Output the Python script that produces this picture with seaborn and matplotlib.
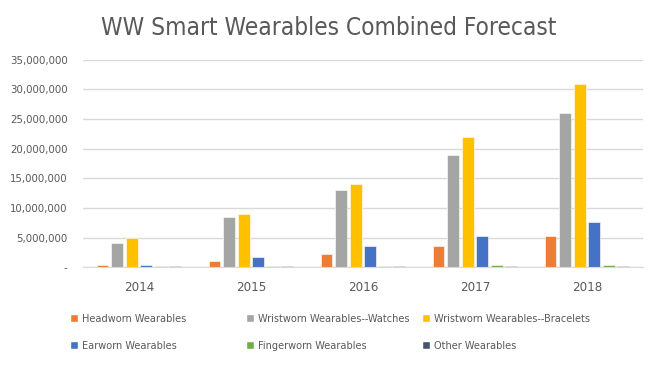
import pandas as pd
import matplotlib.pyplot as plt
import seaborn as sns
from matplotlib.patches import Patch
from matplotlib.ticker import FuncFormatter

# values
years = ['2014', '2015', '2016', '2017', '2018']
series = ['Headworn Wearables', 'Wristworn Wearables--Watches', 'Wristworn Wearables--Bracelets',
          'Earworn Wearables', 'Fingerworn Wearables', 'Other Wearables']
headworn = [350000, 1000000, 2250000, 3600000, 5250000]
watches = [4000000, 8500000, 13000000, 19000000, 26000000]
bracelets = [5000000, 9000000, 14000000, 22000000, 31000000]
earworn = [400000, 1750000, 3550000, 5250000, 7600000]
fingerworn = [220000, 200000, 250000, 350000, 450000]
other = [200000, 200000, 200000, 200000, 250000]
colors = ['#ED7D31', '#A5A5A5', '#FFC000', '#4472C4', '#70AD47', '#44546A']

values = [headworn, watches, bracelets, earworn, fingerworn, other]
rows = []
for s, vals in zip(series, values):
    for y, v in zip(years, vals):
        rows.append({'Year': y, 'Series': s, 'Units': v})
data = pd.DataFrame(rows)

sns.set_style('white')
plt.rcParams['font.family'] = ['DejaVu Sans']
plt.rcParams['font.stretch'] = 'condensed'

fig = plt.figure(figsize=(6.58, 3.65), dpi=100)
ax = fig.add_axes([0.126, 0.268, 0.851, 0.568])

sns.barplot(data=data, x='Year', y='Units', hue='Series', palette=colors, saturation=1,
            width=0.78, gap=0.18, ax=ax, legend=False, edgecolor='white', linewidth=0.4)

ax.set_ylim(0, 35000000)
ax.set_yticks(range(0, 35000001, 5000000))
ax.yaxis.set_major_formatter(FuncFormatter(lambda v, p: '-' if v == 0 else f'{int(v):,}'))
ax.grid(axis='y', color='#D9D9D9', linewidth=1)
ax.set_axisbelow(True)
for side in ['left', 'right', 'top']:
    ax.spines[side].set_visible(False)
ax.spines['bottom'].set_color('#D9D9D9')
ax.tick_params(axis='both', length=0, colors='#595959')
ax.tick_params(axis='y', pad=11, labelsize=8.2)
ax.tick_params(axis='x', pad=10, labelsize=9.5)
ax.set_xlabel('')
ax.set_ylabel('')

fig.text(0.5, 0.923, 'WW Smart Wearables Combined Forecast', ha='center', va='center',
         fontsize=17.5, color='#595959')

# legend: three columns placed like the original
col_x = [0.1064, 0.3739, 0.6413]
for i, x in enumerate(col_x):
    handles = [Patch(facecolor=colors[i]), Patch(facecolor=colors[i + 3])]
    labels = [series[i], series[i + 3]]
    fig.legend(handles, labels, loc='upper left', bbox_to_anchor=(x, 0.141), frameon=False,
               fontsize=7.8, labelcolor='#595959', handlelength=0.72, handleheight=0.72,
               handletextpad=0.4, labelspacing=1.6, borderaxespad=0, borderpad=0)

fig.savefig('out.png', dpi=100)
